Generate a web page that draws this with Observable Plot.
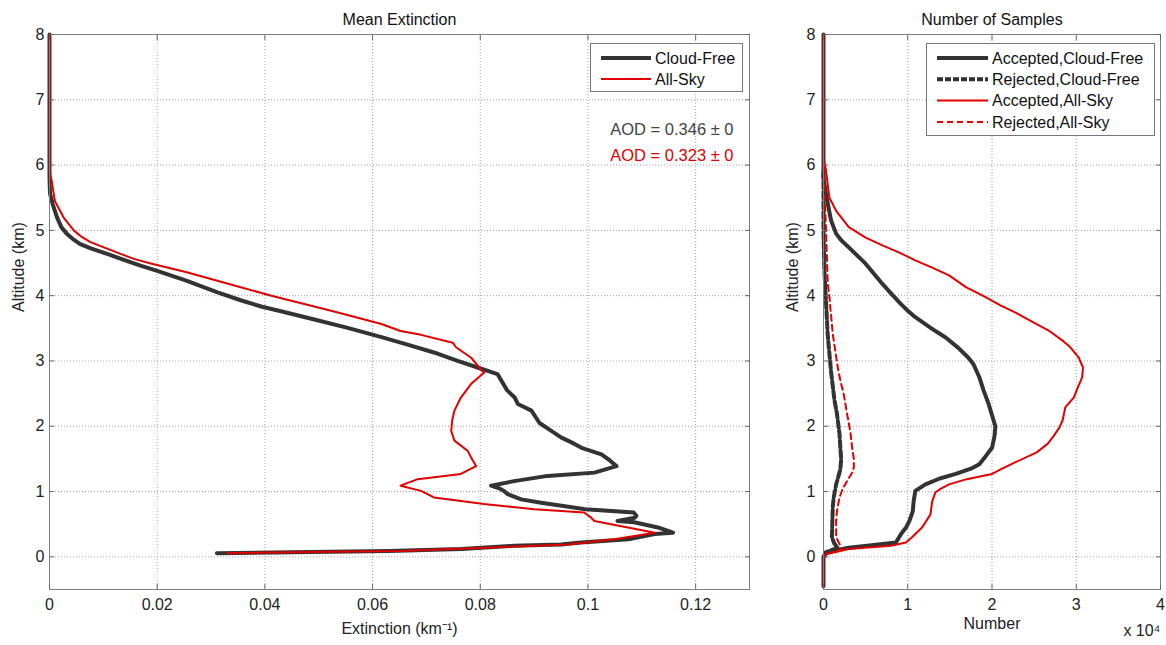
<!DOCTYPE html>
<html><head><meta charset="utf-8">
<script src="https://cdn.jsdelivr.net/npm/d3@7"></script>
<script src="https://cdn.jsdelivr.net/npm/@observablehq/plot@0.6"></script>
<style>
body{margin:0;background:#fff;font-family:"Liberation Sans",Arial,sans-serif;}
#wrap{position:relative;width:1166px;height:645px;overflow:hidden;background:#fff;}
#left{position:absolute;left:0;top:0;}
#right{position:absolute;left:770px;top:0;}
.legend{position:absolute;background:#fff;border:1px solid #777;box-sizing:border-box;}
.legend svg{position:absolute;left:0;top:0;}
</style></head><body>
<div id="wrap"><div id="left"></div><div id="right"></div>
<div id="legL" class="legend" style="left:590px;top:43px;width:153px;height:49px;"></div>
<div id="legR" class="legend" style="left:926px;top:43px;width:229px;height:93px;"></div>
</div>
<script>
// ---------- data ----------
const altTicks = [0, 1, 2, 3, 4, 5, 6, 7, 8];
const extTicks = [0, 0.02, 0.04, 0.06, 0.08, 0.1, 0.12];
const numTicks = [0, 1, 2, 3, 4];

const titleLeft = "Mean Extinction";
const titleRight = "Number of Samples";
const yLabel = "Altitude (km)";
const xLabelLeft = "Extinction (km\u207b\u00b9)";
const xLabelRight = "Number";
const xScaleNote = "x 10\u2074";
const aodLabels = ["AOD = 0.346 \u00b1 0", "AOD = 0.323 \u00b1 0"];

// [altitude km, extinction km^-1]
const cloudFreeExt = [[8,0],[5.8,0],[5.56,0.0001],[5.4,0.0006],[5.2,0.0014],[5.05,0.0022],[4.95,0.0032],[4.87,0.0043],[4.79,0.0057],[4.72,0.0078],[4.64,0.0107],[4.55,0.0138],[4.46,0.0169],[4.38,0.02],[4.23,0.0254],[4.05,0.0312],[3.93,0.0355],[3.83,0.0395],[3.73,0.0445],[3.64,0.049],[3.51,0.0552],[3.37,0.0615],[3.25,0.0665],[3.13,0.0714],[3.0,0.0758],[2.9,0.0795],[2.8,0.0832],[2.7,0.0839],[2.55,0.085],[2.44,0.0864],[2.34,0.087],[2.24,0.0895],[2.05,0.091],[1.93,0.0932],[1.83,0.095],[1.73,0.0975],[1.67,0.0988],[1.57,0.1025],[1.48,0.104],[1.39,0.1053],[1.29,0.1012],[1.24,0.0925],[1.16,0.0863],[1.09,0.082],[1.05,0.0835],[1.01,0.0844],[0.96,0.0851],[0.88,0.0876],[0.83,0.0913],[0.73,0.0995],[0.68,0.1085],[0.63,0.109],[0.6,0.1087],[0.55,0.1055],[0.53,0.1086],[0.45,0.113],[0.37,0.1158],[0.35,0.1124],[0.27,0.1075],[0.22,0.0987],[0.19,0.095],[0.17,0.0863],[0.12,0.0765],[0.09,0.063],[0.07,0.045],[0.057,0.0311]];
const allSkyExt = [[8,0],[5.9,0],[5.76,0.0004],[5.45,0.001],[5.2,0.0026],[5.0,0.0045],[4.9,0.006],[4.82,0.0076],[4.72,0.0107],[4.64,0.0132],[4.56,0.0158],[4.49,0.019],[4.36,0.0255],[4.13,0.0355],[4.0,0.0412],[3.77,0.0523],[3.57,0.0615],[3.46,0.0652],[3.4,0.069],[3.28,0.0749],[3.21,0.0755],[3.05,0.0783],[2.9,0.0798],[2.82,0.0807],[2.65,0.0783],[2.44,0.0764],[2.24,0.0752],[2.1,0.0748],[1.93,0.0746],[1.78,0.0752],[1.62,0.0777],[1.52,0.0783],[1.39,0.0792],[1.27,0.0764],[1.19,0.0684],[1.09,0.0652],[1.01,0.069],[0.91,0.0714],[0.81,0.0807],[0.73,0.09],[0.68,0.0993],[0.6,0.1006],[0.55,0.1012],[0.48,0.1055],[0.37,0.1124],[0.27,0.1049],[0.19,0.0963],[0.14,0.0807],[0.09,0.0652],[0.07,0.045],[0.057,0.033]];

// [altitude km, number of samples x 10^4]
const acceptedCloudFree = [[8,0],[5.8,0],[5.56,0.03],[5.35,0.06],[5.15,0.09],[4.95,0.15],[4.85,0.21],[4.74,0.3],[4.49,0.5],[4.18,0.7],[4.05,0.79],[3.87,0.92],[3.77,1.0],[3.67,1.09],[3.5,1.28],[3.36,1.45],[3.2,1.6],[3.05,1.72],[2.95,1.78],[2.75,1.85],[2.55,1.9],[2.34,1.96],[2.0,2.04],[1.85,2.03],[1.67,2.0],[1.55,1.93],[1.42,1.85],[1.35,1.75],[1.27,1.57],[1.2,1.38],[1.11,1.21],[1.01,1.09],[0.85,1.07],[0.7,1.06],[0.55,1.02],[0.45,0.98],[0.35,0.92],[0.22,0.86],[0.18,0.6],[0.14,0.3],[0.07,0.03],[-0.01,0],[-0.45,0]];
const rejectedCloudFree = [[5.9,0],[5.0,0.0],[4.4,0.01],[3.9,0.03],[3.4,0.05],[2.83,0.09],[2.4,0.13],[2.19,0.16],[1.88,0.19],[1.67,0.2],[1.5,0.21],[1.34,0.2],[1.2,0.17],[1.11,0.15],[0.9,0.12],[0.76,0.11],[0.3,0.1],[0.2,0.13],[0.14,0.17],[0.07,0.03],[0.0,0]];
const acceptedAllSky = [[8,0],[6.1,0],[5.92,0.03],[5.7,0.05],[5.5,0.07],[5.3,0.15],[5.05,0.3],[4.89,0.5],[4.77,0.7],[4.66,0.9],[4.54,1.09],[4.43,1.29],[4.31,1.49],[4.13,1.69],[4.0,1.89],[3.85,2.1],[3.74,2.28],[3.6,2.48],[3.46,2.68],[3.3,2.85],[3.21,2.93],[3.05,3.03],[2.9,3.08],[2.75,3.07],[2.6,3.02],[2.44,2.97],[2.29,2.87],[2.1,2.84],[1.98,2.8],[1.85,2.73],[1.73,2.66],[1.6,2.53],[1.45,2.28],[1.35,2.12],[1.27,2.0],[1.19,1.7],[1.11,1.49],[1.05,1.4],[0.99,1.33],[0.85,1.29],[0.65,1.27],[0.45,1.17],[0.3,1.05],[0.22,0.98],[0.17,0.8],[0.12,0.3],[0.04,0.03],[-0.01,0],[-0.45,0]];
const rejectedAllSky = [[6.0,0],[5.0,0.03],[4.2,0.05],[3.98,0.07],[3.41,0.11],[2.9,0.17],[2.7,0.2],[2.49,0.24],[2.19,0.28],[1.9,0.32],[1.67,0.34],[1.5,0.36],[1.37,0.36],[1.29,0.34],[1.16,0.28],[1.05,0.23],[0.91,0.19],[0.7,0.16],[0.55,0.15],[0.3,0.15],[0.12,0.22],[0.04,0.03],[0.0,0]];

const legendLeftLabels = ["Cloud-Free", "All-Sky"];
const legendRightLabels = ["Accepted,Cloud-Free", "Rejected,Cloud-Free", "Accepted,All-Sky", "Rejected,All-Sky"];

// ---------- styles ----------
const BLACK = "#333333", RED = "#e00000";
const FONT = "'Liberation Sans', Arial, sans-serif";
const gridStyle = {stroke: "#a0a0a0", strokeOpacity: 1, strokeDasharray: "1,2"};
const fmt = d3.format("~g");
const blank = () => "";

function axes(xTicks, yTicks, xLabel, xLabelDy, yPad) {
  return [
    Plot.frame({stroke: "#808080"}),
    Plot.axisX(xTicks, {anchor: "bottom", tickSize: 0, tickPadding: 9, tickFormat: fmt, label: null, fill: "#222"}),
    Plot.axisX(xTicks, {anchor: "bottom", tickSize: -5, tickFormat: blank, label: null, stroke: "#666"}),
    Plot.axisX(xTicks, {anchor: "top", tickSize: -5, tickFormat: blank, label: null, stroke: "#666"}),
    Plot.axisY(yTicks, {anchor: "left", tickSize: 0, tickPadding: yPad, tickFormat: fmt, label: null, fill: "#222"}),
    Plot.axisY(yTicks, {anchor: "left", tickSize: -5, tickFormat: blank, label: null, stroke: "#666"}),
    Plot.axisY(yTicks, {anchor: "right", tickSize: -5, tickFormat: blank, label: null, stroke: "#666"}),
    Plot.text([yLabel], {frameAnchor: "left", rotate: -90, dx: -31, fontSize: 16, fill: "#222"}),
    Plot.text([xLabel], {frameAnchor: "bottom", dy: xLabelDy, fontSize: 16, fill: "#222"})
  ];
}

const xyOf = {x: d => d[1], y: d => d[0]};

const left = Plot.plot({
  width: 770, height: 645, marginLeft: 49, marginRight: 21, marginTop: 34, marginBottom: 56,
  style: {fontFamily: FONT, fontSize: "16px", color: "#222", background: "#fff", overflow: "visible"},
  x: {domain: [0, 0.13]},
  y: {domain: [-0.5, 8]},
  marks: [
    Plot.gridX(extTicks, gridStyle),
    Plot.gridY(altTicks, gridStyle),
    Plot.line(cloudFreeExt, {...xyOf, stroke: BLACK, strokeWidth: 4}),
    Plot.line(allSkyExt, {...xyOf, stroke: RED, strokeWidth: 2}),
    ...axes(extTicks, altTicks, xLabelLeft, 44, 5),
    Plot.text([titleLeft], {frameAnchor: "top", dy: -21, fontSize: 16, fill: "#111"}),
    Plot.text([aodLabels[0]], {frameAnchor: "top-right", textAnchor: "end", dx: -16, dy: 89, fontSize: 16.5, fill: "#444"}),
    Plot.text([aodLabels[1]], {frameAnchor: "top-right", textAnchor: "end", dx: -16, dy: 115, fontSize: 16.5, fill: RED})
  ]
});
document.getElementById("left").append(left);

const right = Plot.plot({
  width: 396, height: 645, marginLeft: 53, marginRight: 6, marginTop: 34, marginBottom: 56,
  style: {fontFamily: FONT, fontSize: "16px", color: "#222", background: "#fff", overflow: "visible"},
  x: {domain: [0, 4]},
  y: {domain: [-0.5, 8]},
  marks: [
    Plot.gridX(numTicks, gridStyle),
    Plot.gridY(altTicks, gridStyle),
    Plot.line(acceptedCloudFree, {...xyOf, stroke: BLACK, strokeWidth: 4}),
    Plot.line(rejectedCloudFree, {...xyOf, stroke: BLACK, strokeWidth: 4, strokeDasharray: "7,3"}),
    Plot.line(acceptedAllSky, {...xyOf, stroke: RED, strokeWidth: 2}),
    Plot.line(rejectedAllSky, {...xyOf, stroke: RED, strokeWidth: 2, strokeDasharray: "6,4"}),
    ...axes(numTicks, altTicks, xLabelRight, 39, 8),
    Plot.text([titleRight], {frameAnchor: "top", dy: -21, fontSize: 16, fill: "#111"}),
    Plot.text([xScaleNote], {frameAnchor: "bottom-right", textAnchor: "end", dy: 46, fontSize: 16, fill: "#222"})
  ]
});
document.getElementById("right").append(right);

// ---------- legends ----------
function legend(id, labels, styles, x0, x1, tx, y0, dyRow, w, h) {
  const ns = "http://www.w3.org/2000/svg";
  const svg = document.createElementNS(ns, "svg");
  svg.setAttribute("width", w); svg.setAttribute("height", h);
  labels.forEach((lab, i) => {
    const y = y0 + i * dyRow;
    const s = styles[i];
    const ln = document.createElementNS(ns, "line");
    ln.setAttribute("x1", x0); ln.setAttribute("x2", x1);
    ln.setAttribute("y1", y); ln.setAttribute("y2", y);
    ln.setAttribute("stroke", s.color); ln.setAttribute("stroke-width", s.width);
    if (s.dash) ln.setAttribute("stroke-dasharray", s.dash);
    svg.append(ln);
    const t = document.createElementNS(ns, "text");
    t.setAttribute("x", tx); t.setAttribute("y", y);
    t.setAttribute("dy", "0.35em");
    t.setAttribute("font-family", FONT); t.setAttribute("font-size", 16);
    t.setAttribute("fill", "#111");
    t.textContent = lab;
    svg.append(t);
  });
  document.getElementById(id).append(svg);
}
legend("legL", legendLeftLabels,
  [{color: BLACK, width: 4}, {color: RED, width: 2}],
  10, 60, 64, 14, 21, 153, 49);
legend("legR", legendRightLabels,
  [{color: BLACK, width: 4}, {color: BLACK, width: 4, dash: "6,2"}, {color: RED, width: 2}, {color: RED, width: 2, dash: "6,4"}],
  10, 61, 65, 14, 21.3, 229, 93);
</script>
</body></html>
